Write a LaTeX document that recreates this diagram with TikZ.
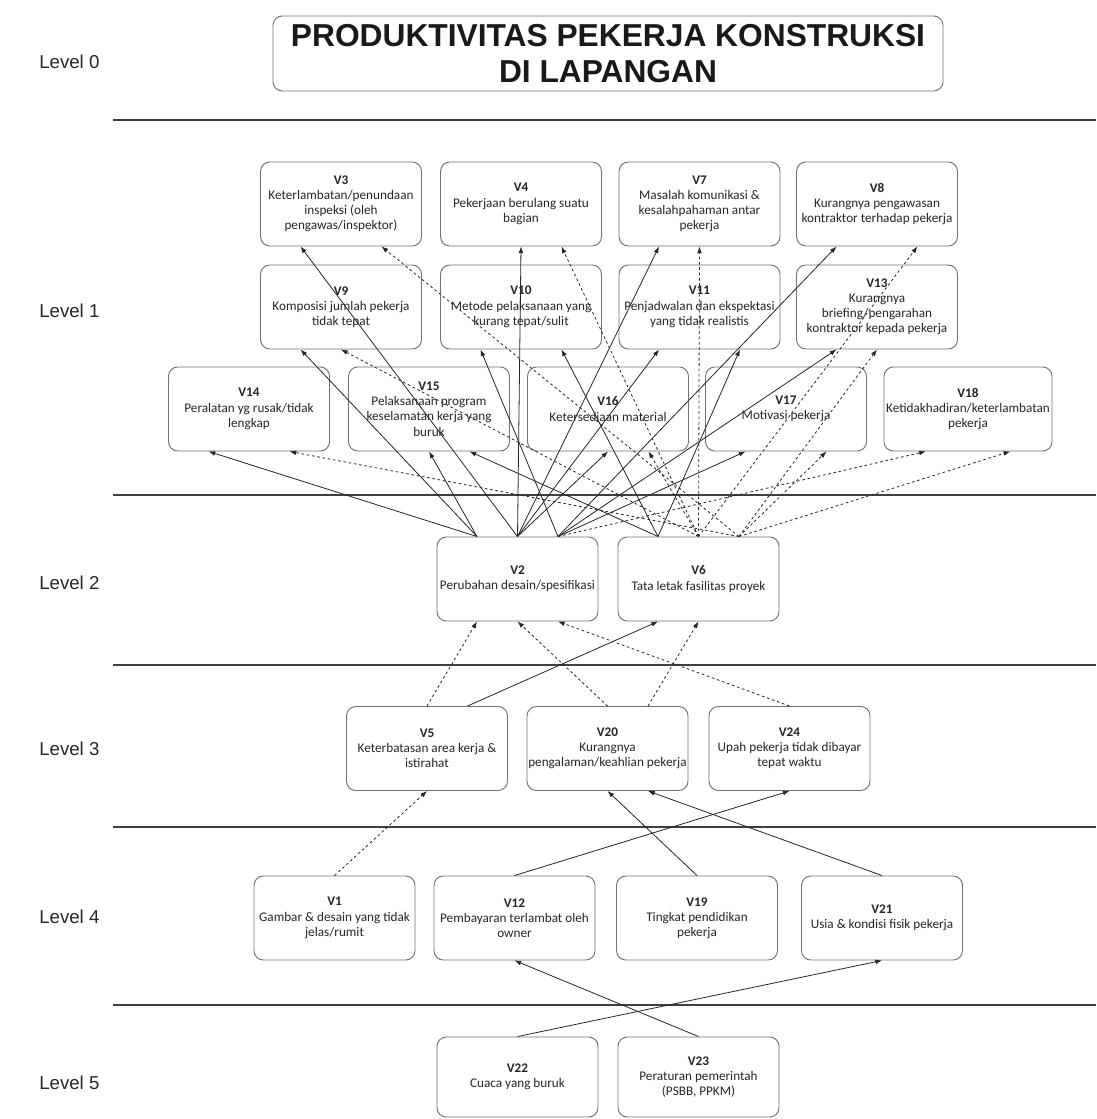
\documentclass[tikz,border=0pt]{standalone}
\usepackage{fontspec}
\setmainfont{Carlito}
\newfontfamily\arialf{Liberation Sans}
\usetikzlibrary{arrows.meta,calc}
\newcommand\bx[4][]{\node[box,#1] (#2) at (#3) {}; \node[txt] (#2t) at (#2.center) {#4};}
\newcommand\cn[5]{\draw[#1] ($(#2.north west)!#3!(#2.north east)$) -- ($(#4.south west)!#5!(#4.south east)$);}
\begin{document}
\begin{tikzpicture}[x=0.75pt,y=-0.75pt,
  box/.style={draw=black!55, line width=0.7pt, rounded corners=7pt, fill=white, minimum width=120.75pt, minimum height=63pt, inner sep=0pt},
  txt/.style={align=center, font=\fontsize{9.9}{11.4}\selectfont, inner sep=0pt, text=black!85},
  sepline/.style={line width=2.2pt, draw=black!75},
  lvl/.style={anchor=west, inner sep=0pt, font=\arialf\fontsize{14}{16}\selectfont, text=black!85},
  con/.style={draw=black!85, line width=0.6pt, -{Latex[length=5pt,width=3.6pt]}},
  dsh/.style={con, dash pattern=on 2pt off 2pt}]
\useasboundingbox (0,0) rectangle (1096,1119);
\fill[white] (0,0) rectangle (1096,1119);
% separators
\foreach \yy in {120,495,665,827,1005} {\draw[sepline] (113,\yy) -- (1096,\yy);}
% level labels
\node[lvl] (l0) at (39,62) {Level 0};
\node[lvl] (l1) at (39,311) {Level 1};
\node[lvl] (l2) at (39,583) {Level 2};
\node[lvl] (l3) at (39,749) {Level 3};
\node[lvl] (l4) at (39,917) {Level 4};
\node[lvl] (l5) at (39,1083) {Level 5};
% title
\node[box, minimum width=502.5pt, minimum height=56.25pt, align=center, font=\arialf\bfseries\fontsize{23.8}{27}\selectfont, text=black!90] (title) at (608,53.5) {PRODUKTIVITAS PEKERJA KONSTRUKSI\\DI LAPANGAN};
% level 1 row 1
\bx{v3}{341,204}{\textbf{V3}\\Keterlambatan/penundaan\\inspeksi (oleh\\pengawas/inspektor)}
\bx{v4}{521,204}{\textbf{V4}\\Pekerjaan berulang suatu\\bagian}
\bx{v7}{699.5,204}{\textbf{V7}\\Masalah komunikasi \&\\kesalahpahaman antar\\pekerja}
\bx{v8}{877,204}{\textbf{V8}\\Kurangnya pengawasan\\kontraktor terhadap pekerja}
% row 2
\bx{v9}{341,307}{\textbf{V9}\\Komposisi jumlah pekerja\\tidak tepat}
\bx{v10}{521,307}{\textbf{V10}\\Metode pelaksanaan yang\\kurang tepat/sulit}
\bx{v11}{699.5,307}{\textbf{V11}\\Penjadwalan dan ekspektasi\\yang tidak realistis}
\bx{v13}{877,307}{\textbf{V13}\\Kurangnya\\briefing/pengarahan\\kontraktor kepada pekerja}
% row 3
\bx{v14}{249,409}{\textbf{V14}\\Peralatan yg rusak/tidak\\lengkap}
\bx{v15}{429,409}{\textbf{V15}\\Pelaksanaan program\\keselamatan kerja yang\\buruk}
\bx{v16}{608,409}{\textbf{V16}\\Ketersediaan material}
\bx{v17}{786,409}{\textbf{V17}\\Motivasi pekerja}
\bx[minimum width=126pt]{v18}{968,409}{\textbf{V18}\\Ketidakhadiran/keterlambatan\\pekerja}
% level 2
\bx{v2}{517.5,579}{\textbf{V2}\\Perubahan desain/spesifikasi}
\bx{v6}{698.5,579}{\textbf{V6}\\Tata letak fasilitas proyek}
% level 3
\bx{v5}{427,748.5}{\textbf{V5}\\Keterbatasan area kerja \&\\istirahat}
\bx{v20}{607.5,748.5}{\textbf{V20}\\Kurangnya\\pengalaman/keahlian pekerja}
\bx{v24}{789.5,748.5}{\textbf{V24}\\Upah pekerja tidak dibayar\\tepat waktu}
% level 4
\bx{v1}{334.5,918}{\textbf{V1}\\Gambar \& desain yang tidak\\jelas/rumit}
\bx{v12}{514.5,918}{\textbf{V12}\\Pembayaran terlambat oleh\\owner}
\bx{v19}{697,918}{\textbf{V19}\\Tingkat pendidikan\\pekerja}
\bx{v21}{882,918}{\textbf{V21}\\Usia \& kondisi fisik pekerja}
% level 5
\bx[minimum height=60pt]{v22}{517.5,1077}{\textbf{V22}\\Cuaca yang buruk}
\bx[minimum height=60pt]{v23}{698.5,1077}{\textbf{V23}\\Peraturan pemerintah\\(PSBB, PPKM)}
% connectors level 2 -> level 1
\cn{con}{v2}{.25}{v14}{.25}
\cn{dsh}{v6}{.75}{v14}{.75}
\cn{con}{v2}{.25}{v15}{.5}
\cn{con}{v6}{.25}{v15}{.75}
\cn{con}{v2}{.5}{v16}{.5}
\cn{dsh}{v6}{.5}{v16}{.75}
\cn{con}{v2}{.75}{v17}{.25}
\cn{dsh}{v6}{.75}{v17}{.75}
\cn{dsh}{v2}{.75}{v18}{.25}
\cn{dsh}{v6}{.75}{v18}{.75}
\cn{con}{v2}{.5}{v3}{.25}
\cn{dsh}{v6}{.75}{v3}{.75}
\cn{con}{v2}{.5}{v4}{.5}
\cn{dsh}{v6}{.5}{v4}{.75}
\cn{con}{v2}{.5}{v7}{.25}
\cn{dsh}{v6}{.5}{v7}{.5}
\cn{con}{v2}{.75}{v8}{.25}
\cn{dsh}{v6}{.5}{v8}{.75}
\cn{con}{v2}{.25}{v9}{.25}
\cn{dsh}{v6}{.5}{v9}{.5}
\cn{con}{v2}{.75}{v10}{.25}
\cn{con}{v6}{.25}{v10}{.75}
\cn{con}{v2}{.5}{v11}{.25}
\cn{con}{v6}{.25}{v11}{.75}
\cn{con}{v2}{.75}{v13}{.25}
\cn{dsh}{v6}{.75}{v13}{.5}
% level 3 -> level 2
\cn{dsh}{v5}{.5}{v2}{.25}
\cn{con}{v5}{.75}{v6}{.25}
\cn{dsh}{v20}{.5}{v2}{.5}
\cn{dsh}{v20}{.75}{v6}{.5}
\cn{dsh}{v24}{.5}{v2}{.75}
% level 4 -> level 3
\cn{dsh}{v1}{.5}{v5}{.5}
\cn{con}{v12}{.5}{v24}{.5}
\cn{con}{v19}{.5}{v20}{.5}
\cn{con}{v21}{.5}{v20}{.75}
% level 5 -> level 4
\cn{con}{v22}{.5}{v21}{.5}
\cn{con}{v23}{.5}{v12}{.5}
\end{tikzpicture}
\end{document}
